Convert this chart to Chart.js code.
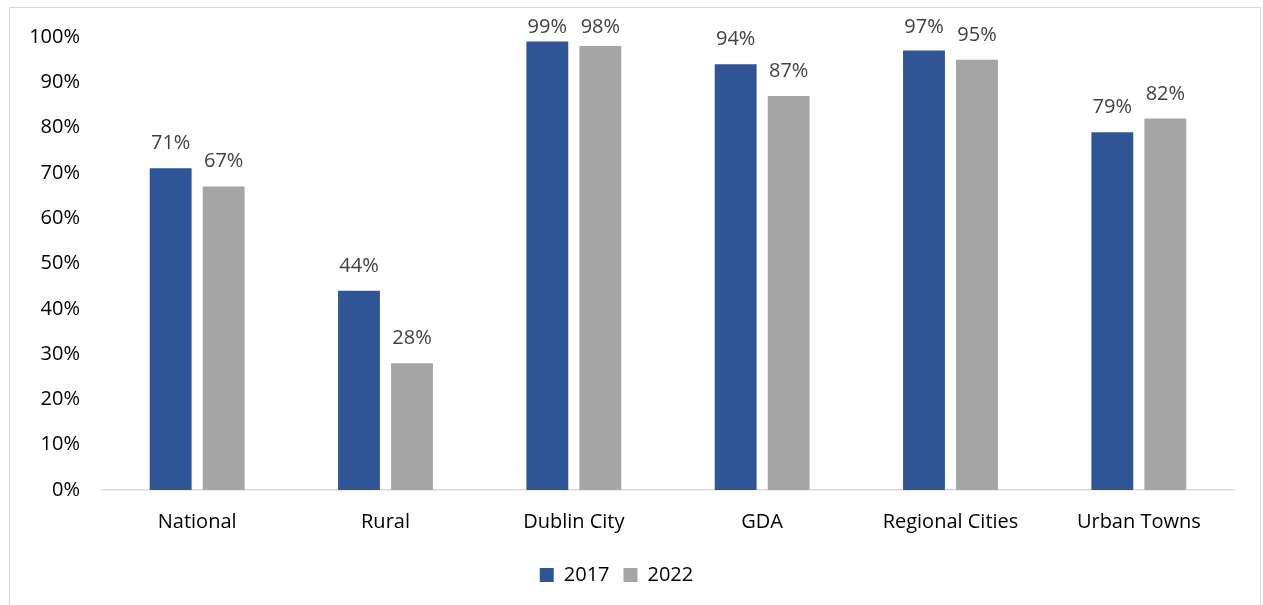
<!DOCTYPE html>
<html>
<head>
<meta charset="utf-8">
<script src="https://cdn.jsdelivr.net/npm/chart.js@4/dist/chart.umd.min.js"></script>
<style>
  html, body { margin: 0; padding: 0; background: #fff; }
  #wrap { width: 1263px; height: 605px; position: relative; }
</style>
</head>
<body>
<div id="wrap"><canvas id="c" width="1263" height="605"></canvas></div>
<script>
const categories = ["National", "Rural", "Dublin City", "GDA", "Regional Cities", "Urban Towns"];
const seriesNames = ["2017", "2022"];
const values2017 = [71, 44, 99, 94, 97, 79];
const values2022 = [67, 28, 98, 87, 95, 82];
const yTicks = [0, 10, 20, 30, 40, 50, 60, 70, 80, 90, 100];

const FONT = "'Open Sans', 'Noto Sans', sans-serif";

const frame = {
  id: 'frame',
  beforeDraw(chart) {
    const ctx = chart.ctx;
    ctx.save();
    ctx.fillStyle = '#ffffff';
    ctx.fillRect(0, 0, chart.width, chart.height);
    ctx.strokeStyle = '#D9D9D9';
    ctx.lineWidth = 1;
    ctx.strokeRect(9.5, 7.5, 1251, 620);
    ctx.restore();
  }
};

const dataLabels = {
  id: 'dataLabels',
  afterDatasetsDraw(chart) {
    const ctx = chart.ctx;
    ctx.save();
    ctx.font = "20px " + FONT;
    ctx.fillStyle = '#404040';
    ctx.textAlign = 'center';
    ctx.textBaseline = 'alphabetic';
    chart.data.datasets.forEach((ds, i) => {
      const meta = chart.getDatasetMeta(i);
      meta.data.forEach((bar, j) => {
        const y = Math.max(bar.y - 19, chart.chartArea.top - 4);
        ctx.fillText(ds.data[j] + '%', bar.x, y);
      });
    });
    ctx.restore();
  }
};

new Chart(document.getElementById('c'), {
  type: 'bar',
  data: {
    labels: categories,
    datasets: [
      { label: seriesNames[0], data: values2017, backgroundColor: '#2F5597', borderWidth: 0,
        categoryPercentage: 0.563, barPercentage: 0.79 },
      { label: seriesNames[1], data: values2022, backgroundColor: '#A5A5A5', borderWidth: 0,
        categoryPercentage: 0.563, barPercentage: 0.79 }
    ]
  },
  options: {
    responsive: false,
    animation: false,
    devicePixelRatio: 1,
    layout: { padding: { left: 0, right: 30, top: 37, bottom: 10 } },
    plugins: {
      legend: {
        position: 'bottom',
        labels: {
          font: { family: FONT, size: 20 },
          color: '#000000',
          boxWidth: 14,
          boxHeight: 14,
          padding: 14
        }
      },
      tooltip: { enabled: false }
    },
    scales: {
      x: {
        grid: { display: false, drawTicks: false },
        border: { display: true, color: '#D9D9D9', width: 1.5 },
        ticks: { font: { family: FONT, size: 20 }, color: '#000000', padding: 20, maxRotation: 0 },
        afterFit(scale) { scale.height = 61; }
      },
      y: {
        min: 0, max: 100,
        grid: { display: false, drawTicks: false },
        border: { display: false },
        afterBuildTicks(scale) { scale.ticks = yTicks.map(v => ({ value: v })); },
        ticks: {
          font: { family: FONT, size: 20 },
          color: '#000000',
          padding: 23,
          callback: v => v + '%'
        },
        afterFit(scale) { scale.width = 103; }
      }
    }
  },
  plugins: [frame, dataLabels]
});
</script>
</body>
</html>
